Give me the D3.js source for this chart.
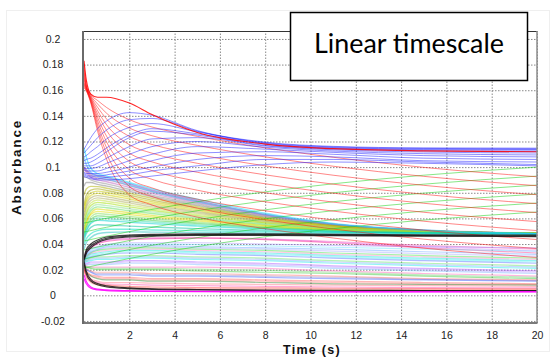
<!DOCTYPE html>
<html><head><meta charset="utf-8">
<script src="https://cdn.jsdelivr.net/npm/d3@7"></script>
<style>
html,body{margin:0;padding:0;background:#fff;}
svg{display:block;}
</style></head><body>
<svg id="chart" width="555" height="358"></svg>
<script>
// Sample times (s) shared by every kinetic trace
const times = [0, 0.1, 0.3, 0.6, 1, 2, 3, 5, 8, 11, 15, 20];

const xTicks = [2, 4, 6, 8, 10, 12, 14, 16, 18, 20];
const xTickLabels = ["2", "4", "6", "8", "10", "12", "14", "16", "18", "20"];
const yTicks = [-0.02, 0, 0.02, 0.04, 0.06, 0.08, 0.1, 0.12, 0.14, 0.16, 0.18, 0.2];
const yTickLabels = ["-0.02", "0", "0.02", "0.04", "0.06", "0.08", "0.1", "0.12", "0.14", "0.16", "0.18", "0.2"];

// Upper red trace with the initial spike
const envelopeTrace = [0.183, 0.168, 0.157, 0.1545, 0.1545, 0.150, 0.141, 0.127, 0.118, 0.1144, 0.1127, 0.112];

// Decaying red traces
const redTraces = [
  [0.180, 0.1640, 0.1565, 0.1520, 0.1465, 0.1370, 0.1313, 0.1240, 0.1150, 0.1077, 0.0998, 0.0925],
  [0.176, 0.1635, 0.1558, 0.1493, 0.1420, 0.1305, 0.1245, 0.1170, 0.1080, 0.1007, 0.0928, 0.0855],
  [0.173, 0.1630, 0.1550, 0.1467, 0.1375, 0.1240, 0.1177, 0.1100, 0.1010, 0.0937, 0.0858, 0.0785],
  [0.170, 0.1625, 0.1543, 0.1440, 0.1330, 0.1175, 0.1109, 0.1030, 0.0940, 0.0867, 0.0788, 0.0715],
  [0.168, 0.1620, 0.1536, 0.1413, 0.1285, 0.1110, 0.1041, 0.0960, 0.0870, 0.0797, 0.0718, 0.0645],
  [0.166, 0.1615, 0.1529, 0.1387, 0.1240, 0.1045, 0.0973, 0.0890, 0.0800, 0.0727, 0.0648, 0.0575],
  [0.165, 0.1610, 0.1522, 0.1360, 0.1195, 0.0980, 0.0905, 0.0820, 0.0730, 0.0657, 0.0578, 0.0505],
  [0.164, 0.1605, 0.1514, 0.1333, 0.1150, 0.0915, 0.0838, 0.0750, 0.0660, 0.0587, 0.0508, 0.0435],
  [0.163, 0.1600, 0.1507, 0.1307, 0.1105, 0.0850, 0.0771, 0.0680, 0.0590, 0.0517, 0.0438, 0.0365],
  [0.162, 0.1595, 0.1500, 0.1280, 0.1060, 0.0785, 0.0705, 0.0610, 0.0520, 0.0447, 0.0368, 0.0295]
];

// Rising blue traces
const blueTraces = [
  [0.114, 0.117, 0.123, 0.130, 0.136, 0.1425, 0.1405, 0.1285, 0.1195, 0.1162, 0.1150, 0.1148],
  [0.111, 0.113, 0.117, 0.123, 0.129, 0.137, 0.138, 0.128, 0.1190, 0.1158, 0.1146, 0.1143],
  [0.108, 0.109, 0.112, 0.116, 0.122, 0.131, 0.134, 0.1275, 0.1185, 0.1153, 0.1141, 0.1138],
  [0.105, 0.106, 0.107, 0.110, 0.115, 0.125, 0.130, 0.126, 0.1180, 0.1148, 0.1136, 0.1132],
  [0.103, 0.103, 0.104, 0.107, 0.112, 0.123, 0.128, 0.125, 0.1170, 0.1142, 0.1128, 0.1122],
  [0.101, 0.101, 0.101, 0.103, 0.107, 0.116, 0.122, 0.123, 0.1165, 0.1135, 0.1118, 0.1110],
  [0.099, 0.099, 0.099, 0.100, 0.103, 0.110, 0.116, 0.120, 0.1155, 0.1125, 0.1105, 0.1095],
  [0.098, 0.097, 0.097, 0.097, 0.099, 0.105, 0.110, 0.116, 0.1140, 0.1115, 0.1090, 0.1080],
  [0.096, 0.095, 0.095, 0.095, 0.096, 0.100, 0.105, 0.111, 0.1120, 0.1100, 0.1070, 0.1060],
  [0.095, 0.094, 0.093, 0.093, 0.094, 0.097, 0.100, 0.106, 0.1090, 0.1080, 0.1050, 0.1040],
  [0.094, 0.093, 0.092, 0.091, 0.092, 0.094, 0.097, 0.101, 0.1060, 0.1060, 0.1040, 0.1020],
  [0.093, 0.092, 0.091, 0.090, 0.090, 0.091, 0.093, 0.097, 0.1020, 0.1040, 0.1030, 0.1010]
];

// Slowly rising green traces
const greenTraces = [
  [0.0564, 0.0567, 0.0575, 0.0587, 0.0601, 0.0637, 0.0670, 0.0730, 0.0807, 0.0870, 0.0937, 0.1000],
  [0.0494, 0.0497, 0.0505, 0.0517, 0.0531, 0.0567, 0.0600, 0.0660, 0.0737, 0.0800, 0.0867, 0.0930],
  [0.0424, 0.0427, 0.0435, 0.0447, 0.0461, 0.0497, 0.0530, 0.0590, 0.0667, 0.0730, 0.0797, 0.0860],
  [0.0354, 0.0357, 0.0365, 0.0377, 0.0391, 0.0427, 0.0460, 0.0520, 0.0597, 0.0660, 0.0727, 0.0790],
  [0.0284, 0.0287, 0.0295, 0.0307, 0.0321, 0.0357, 0.0390, 0.0450, 0.0527, 0.0590, 0.0657, 0.0720],
  [0.0214, 0.0217, 0.0225, 0.0237, 0.0251, 0.0287, 0.0320, 0.0380, 0.0457, 0.0520, 0.0587, 0.0650]
];

// Converging middle band
const bandTraces = [
  [0.100, 0.098, 0.095, 0.0935, 0.0920, 0.0870, 0.0820, 0.0740, 0.0630, 0.0555, 0.0505, 0.0480],
  [0.099, 0.097, 0.0935, 0.0918, 0.0903, 0.0856, 0.0808, 0.0731, 0.0626, 0.0554, 0.0506, 0.0483],
  [0.098, 0.096, 0.092, 0.0900, 0.0886, 0.0841, 0.0795, 0.0722, 0.0622, 0.0553, 0.0507, 0.0485],
  [0.092, 0.092, 0.090, 0.0883, 0.0869, 0.0826, 0.0782, 0.0712, 0.0616, 0.0550, 0.0506, 0.0484],
  [0.085, 0.088, 0.088, 0.0865, 0.0852, 0.0811, 0.0769, 0.0702, 0.0610, 0.0547, 0.0505, 0.0484],
  [0.078, 0.083, 0.085, 0.0848, 0.0835, 0.0796, 0.0756, 0.0692, 0.0604, 0.0544, 0.0504, 0.0484],
  [0.070, 0.078, 0.082, 0.0830, 0.0818, 0.0781, 0.0743, 0.0682, 0.0598, 0.0541, 0.0503, 0.0484],
  [0.067, 0.075, 0.080, 0.0813, 0.0802, 0.0766, 0.0730, 0.0671, 0.0592, 0.0538, 0.0502, 0.0483],
  [0.065, 0.073, 0.078, 0.0795, 0.0785, 0.0751, 0.0716, 0.0661, 0.0586, 0.0535, 0.0500, 0.0483],
  [0.062, 0.070, 0.076, 0.0778, 0.0768, 0.0736, 0.0703, 0.0651, 0.0580, 0.0532, 0.0499, 0.0483],
  [0.060, 0.068, 0.074, 0.0760, 0.0751, 0.0721, 0.0690, 0.0641, 0.0574, 0.0529, 0.0498, 0.0483],
  [0.058, 0.065, 0.072, 0.0743, 0.0734, 0.0705, 0.0677, 0.0631, 0.0568, 0.0526, 0.0497, 0.0483],
  [0.056, 0.063, 0.070, 0.0725, 0.0717, 0.0690, 0.0664, 0.0621, 0.0563, 0.0523, 0.0496, 0.0483],
  [0.054, 0.061, 0.068, 0.0708, 0.0700, 0.0675, 0.0651, 0.0611, 0.0557, 0.0520, 0.0495, 0.0482],
  [0.052, 0.059, 0.066, 0.0690, 0.0683, 0.0660, 0.0638, 0.0601, 0.0551, 0.0517, 0.0494, 0.0482],
  [0.051, 0.057, 0.064, 0.0673, 0.0666, 0.0645, 0.0624, 0.0591, 0.0545, 0.0513, 0.0492, 0.0482],
  [0.050, 0.056, 0.063, 0.0655, 0.0649, 0.0630, 0.0611, 0.0581, 0.0539, 0.0510, 0.0491, 0.0482],
  [0.048, 0.054, 0.061, 0.0638, 0.0632, 0.0615, 0.0598, 0.0571, 0.0533, 0.0507, 0.0490, 0.0482],
  [0.047, 0.053, 0.059, 0.0620, 0.0615, 0.0600, 0.0585, 0.0561, 0.0527, 0.0504, 0.0489, 0.0482],
  [0.046, 0.051, 0.057, 0.0603, 0.0598, 0.0585, 0.0572, 0.0550, 0.0521, 0.0501, 0.0488, 0.0481],
  [0.045, 0.050, 0.056, 0.0585, 0.0582, 0.0570, 0.0559, 0.0540, 0.0515, 0.0498, 0.0487, 0.0481],
  [0.043, 0.048, 0.053, 0.0550, 0.0548, 0.0540, 0.0533, 0.0520, 0.0504, 0.0492, 0.0485, 0.0481],
  [0.040, 0.044, 0.048, 0.0505, 0.0515, 0.0515, 0.0510, 0.0505, 0.0495, 0.0490, 0.0482, 0.0480],
  [0.036, 0.041, 0.045, 0.0480, 0.0490, 0.0495, 0.0493, 0.0490, 0.0485, 0.0480, 0.0477, 0.0475],
  [0.115, 0.108, 0.099, 0.0950, 0.0930, 0.0880, 0.0830, 0.0750, 0.0640, 0.0560, 0.0510, 0.0480],
  [0.108, 0.102, 0.096, 0.0930, 0.0910, 0.0860, 0.0810, 0.0730, 0.0630, 0.0555, 0.0505, 0.0480]
];
const bandColors = ["#8a3cc0", "#a070a0", "#c060c0", "#909090", "#808080", "#b0b000",
  "#a0a000", "#c8c800", "#d2d200", "#a8a850", "#b0b060", "#c0e040", "#a0e000", "#90e090",
  "#60e060", "#d8d800", "#e0e000", "#80e060", "#40d040", "#40e0b0", "#00d0d0", "#00c0a0",
  "#00e0c0", "#20c0c0", "#00d8ff", "#40c0ff"];

// Traces inside the lower lozenge
const lowerTraces = [
  [0.030, 0.034, 0.038, 0.041, 0.043, 0.0445, 0.0448, 0.045, 0.044, 0.042, 0.039, 0.036],
  [0.0295, 0.0335, 0.0375, 0.0405, 0.0425, 0.044, 0.0444, 0.0447, 0.0438, 0.0415, 0.038, 0.0345],
  [0.029, 0.033, 0.037, 0.040, 0.042, 0.0435, 0.044, 0.0445, 0.0435, 0.041, 0.037, 0.033],
  [0.028, 0.032, 0.036, 0.038, 0.040, 0.041, 0.041, 0.041, 0.040, 0.039, 0.038, 0.037],
  [0.0285, 0.0315, 0.035, 0.037, 0.039, 0.040, 0.040, 0.0395, 0.0385, 0.0375, 0.036, 0.0345],
  [0.028, 0.031, 0.034, 0.036, 0.038, 0.039, 0.039, 0.038, 0.037, 0.036, 0.034, 0.032],
  [0.0275, 0.0305, 0.0335, 0.0355, 0.037, 0.038, 0.038, 0.037, 0.036, 0.0345, 0.0325, 0.0305],
  [0.027, 0.030, 0.033, 0.035, 0.036, 0.037, 0.037, 0.036, 0.035, 0.033, 0.031, 0.029],
  [0.027, 0.0295, 0.0325, 0.034, 0.035, 0.036, 0.036, 0.035, 0.034, 0.032, 0.030, 0.028],
  [0.027, 0.029, 0.032, 0.033, 0.034, 0.035, 0.035, 0.034, 0.033, 0.031, 0.029, 0.027],
  [0.0265, 0.0285, 0.031, 0.032, 0.033, 0.034, 0.034, 0.033, 0.032, 0.030, 0.028, 0.026],
  [0.026, 0.028, 0.030, 0.031, 0.032, 0.033, 0.033, 0.032, 0.031, 0.029, 0.027, 0.025],
  [0.026, 0.027, 0.029, 0.030, 0.030, 0.031, 0.031, 0.030, 0.029, 0.027, 0.025, 0.023],
  [0.0255, 0.0265, 0.028, 0.029, 0.029, 0.030, 0.030, 0.029, 0.028, 0.026, 0.024, 0.022],
  [0.025, 0.026, 0.027, 0.028, 0.028, 0.029, 0.029, 0.028, 0.027, 0.025, 0.023, 0.021],
  [0.025, 0.025, 0.026, 0.026, 0.026, 0.027, 0.027, 0.026, 0.025, 0.023, 0.021, 0.019],
  [0.0245, 0.0245, 0.025, 0.025, 0.025, 0.026, 0.026, 0.025, 0.024, 0.022, 0.020, 0.018],
  [0.024, 0.024, 0.024, 0.024, 0.024, 0.025, 0.025, 0.024, 0.023, 0.021, 0.019, 0.017],
  [0.024, 0.023, 0.022, 0.022, 0.022, 0.022, 0.022, 0.022, 0.021, 0.019, 0.017, 0.015],
  [0.0235, 0.0225, 0.0215, 0.021, 0.021, 0.021, 0.021, 0.0205, 0.0195, 0.018, 0.016, 0.014],
  [0.023, 0.022, 0.021, 0.020, 0.020, 0.020, 0.020, 0.019, 0.018, 0.017, 0.015, 0.013],
  [0.023, 0.021, 0.019, 0.018, 0.018, 0.018, 0.017, 0.017, 0.016, 0.015, 0.013, 0.012],
  [0.0225, 0.0205, 0.0185, 0.017, 0.017, 0.017, 0.016, 0.016, 0.015, 0.014, 0.0125, 0.0115],
  [0.022, 0.020, 0.018, 0.016, 0.016, 0.016, 0.015, 0.015, 0.014, 0.013, 0.012, 0.011],
  [0.022, 0.019, 0.016, 0.015, 0.014, 0.014, 0.013, 0.013, 0.012, 0.011, 0.010, 0.009],
  [0.0215, 0.0185, 0.0155, 0.014, 0.013, 0.013, 0.012, 0.012, 0.011, 0.010, 0.009, 0.0085],
  [0.021, 0.018, 0.015, 0.013, 0.012, 0.012, 0.011, 0.011, 0.010, 0.009, 0.0085, 0.008],
  [0.021, 0.017, 0.013, 0.011, 0.010, 0.010, 0.0095, 0.009, 0.0085, 0.008, 0.0075, 0.007],
  [0.020, 0.016, 0.012, 0.010, 0.009, 0.0085, 0.008, 0.0075, 0.007, 0.0065, 0.006, 0.0058],
  [0.020, 0.015, 0.011, 0.009, 0.008, 0.007, 0.0065, 0.006, 0.0058, 0.0055, 0.0052, 0.005],
  [0.019, 0.014, 0.010, 0.008, 0.007, 0.006, 0.0055, 0.005, 0.0048, 0.0046, 0.0045, 0.0044]
];
const lowerColors = ["#ff40a0", "#e080ff", "#ff2080", "#9a80ff", "#60e0ff", "#60a0ff",
  "#a0a0ff", "#30e030", "#ff80c0", "#00e0e0", "#40f0f0", "#4060ff", "#50e050", "#80a0ff",
  "#00e8e8", "#a040ff", "#b090ff", "#70b0ff", "#ff50b0", "#60d060", "#20c020", "#ff6060",
  "#9080c0", "#3050ff", "#ff5050", "#ff7070", "#107010", "#ff6070", "#ff30a0", "#ff2020",
  "#ff7060"];

// Thick dark traces bounding the lozenge
const blackUpperTraces = [
  [0.028, 0.034, 0.0385, 0.042, 0.0445, 0.0462, 0.0468, 0.0474, 0.0474, 0.0470, 0.0466, 0.0463],
  [0.029, 0.0355, 0.040, 0.0432, 0.0455, 0.047, 0.0476, 0.048, 0.048, 0.0476, 0.0472, 0.0469],
  [0.027, 0.0325, 0.037, 0.041, 0.0437, 0.0455, 0.0462, 0.0467, 0.0468, 0.0465, 0.0461, 0.0458]
];
const blackLowerTraces = [
  [0.027, 0.019, 0.0125, 0.0092, 0.0074, 0.0058, 0.0051, 0.0045, 0.0041, 0.0039, 0.0038, 0.0037],
  [0.025, 0.017, 0.011, 0.0082, 0.0066, 0.0052, 0.0046, 0.0041, 0.0038, 0.0036, 0.0035, 0.0035]
];
const magentaTraces = [
  [0.016, 0.011, 0.0065, 0.0048, 0.0042, 0.0036, 0.0033, 0.0031, 0.003, 0.0029, 0.0028, 0.0028],
  [0.013, 0.009, 0.0055, 0.0042, 0.0037, 0.0032, 0.003, 0.0028, 0.0027, 0.0026, 0.0026, 0.0026]
];

const titleText = "Linear timescale";
const xLabel = "Time (s)";
const yLabel = "Absorbance";

// ---- drawing ----
const svg = d3.select("#chart");
const plot = {left: 84, right: 537, top: 31, bottom: 323};

const x = d3.scaleLinear().domain([0, 20]).range([plot.left, plot.right]);
const y = d3.scaleLinear().domain([-0.0216, 0.2062]).range([plot.bottom, plot.top]);

// faint page frame
svg.append("rect").attr("x", 6.5).attr("y", 10.5).attr("width", 543).attr("height", 341)
  .attr("fill", "none").attr("stroke", "#efefef").attr("stroke-width", 1);

// grid
const gx = svg.append("g").attr("transform", `translate(0,${plot.bottom})`)
  .call(d3.axisBottom(x).tickValues(xTicks).tickSize(-(plot.bottom - plot.top)).tickFormat(""));
const gy = svg.append("g").attr("transform", `translate(${plot.left},0)`)
  .call(d3.axisLeft(y).tickValues(yTicks).tickSize(-(plot.right - plot.left)).tickFormat(""));
[gx, gy].forEach(g => {
  g.select(".domain").remove();
  g.selectAll(".tick line").attr("stroke", "#8a8a8a").attr("stroke-width", 1)
    .attr("stroke-dasharray", "1.5,1.5");
});

// traces
svg.append("clipPath").attr("id", "plotClip").append("rect")
  .attr("x", plot.left).attr("y", plot.top)
  .attr("width", plot.right - plot.left).attr("height", plot.bottom - plot.top);
const traces = svg.append("g").attr("clip-path", "url(#plotClip)");
const line = d3.line().x((d, i) => x(times[i])).y(d => y(d)).curve(d3.curveMonotoneX);

function draw(rows, color, width, opacity) {
  traces.append("g").selectAll("path").data(rows).join("path")
    .attr("d", line).attr("fill", "none")
    .attr("stroke", (d, i) => typeof color === "function" ? color(i) : color)
    .attr("stroke-width", width).attr("stroke-opacity", opacity)
    .attr("stroke-linejoin", "round");
}

draw(lowerTraces, i => lowerColors[i], 1.2, 0.42);
draw(bandTraces, i => bandColors[i], 1.4, 0.5);
draw(greenTraces, "#10d010", 1, 0.5);
draw(redTraces, "#ff1010", 1, 0.5);
draw(blueTraces, "#2020ff", 1, 0.5);
draw([envelopeTrace], "#ff0000", 1.2, 0.85);
draw(blackUpperTraces, "#111", 1.2, 0.8);
draw(blackLowerTraces, "#111", 1.1, 0.8);
draw(magentaTraces, "#ff00ff", 1.2, 0.85);

// frame
svg.append("line").attr("x1", plot.left).attr("x2", plot.right).attr("y1", plot.top + 0.5).attr("y2", plot.top + 0.5)
  .attr("stroke", "#333").attr("stroke-width", 1);
svg.append("line").attr("x1", plot.right).attr("x2", plot.right).attr("y1", plot.top).attr("y2", plot.bottom)
  .attr("stroke", "#8c8c8c").attr("stroke-width", 1.5);
svg.append("line").attr("x1", plot.left - 1).attr("x2", plot.right + 0.5).attr("y1", plot.bottom).attr("y2", plot.bottom)
  .attr("stroke", "#7a7a7a").attr("stroke-width", 2);
svg.append("line").attr("x1", plot.left - 1).attr("x2", plot.left - 1).attr("y1", plot.top).attr("y2", plot.bottom + 1)
  .attr("stroke", "#6a6a6a").attr("stroke-width", 2);

// tick labels
const tickFont = "'Liberation Sans', Arial, sans-serif";
const ax = svg.append("g").attr("transform", `translate(0,${plot.bottom})`)
  .call(d3.axisBottom(x).tickValues(xTicks).tickSize(0).tickPadding(9)
    .tickFormat((d, i) => xTickLabels[i]));
const ay = svg.append("g").attr("transform", `translate(${plot.left},0)`)
  .call(d3.axisLeft(y).tickValues(yTicks).tickSize(0).tickFormat((d, i) => yTickLabels[i]));
[ax, ay].forEach(g => {
  g.select(".domain").remove();
  g.selectAll("text").attr("font-family", tickFont).attr("font-size", 10.5).attr("fill", "#222");
});
ay.selectAll("text").attr("text-anchor", "middle").attr("x", -31);

// axis titles
svg.append("text").attr("x", 312).attr("y", 354).attr("text-anchor", "middle")
  .attr("font-family", tickFont).attr("font-weight", "bold").attr("font-size", 12.5)
  .attr("letter-spacing", 1.3).attr("fill", "#111").text(xLabel);
svg.append("text").attr("transform", "translate(21,167) rotate(-90)").attr("text-anchor", "middle")
  .attr("font-family", tickFont).attr("font-weight", "bold").attr("font-size", 13.5)
  .attr("letter-spacing", 1.8).attr("fill", "#111").text(yLabel);

// title box
svg.append("rect").attr("x", 290.5).attr("y", 12.5).attr("width", 237).attr("height", 68)
  .attr("fill", "#fff").attr("stroke", "#000").attr("stroke-width", 1.5);
const title = svg.append("text").attr("x", 409).attr("y", 53).attr("text-anchor", "middle")
  .attr("font-family", "Lato, 'Open Sans', sans-serif").attr("font-size", 28).attr("fill", "#000")
  .text(titleText);
const w = title.node().getComputedTextLength();
title.attr("font-size", 28 * 190 / w);
</script>
</body></html>
